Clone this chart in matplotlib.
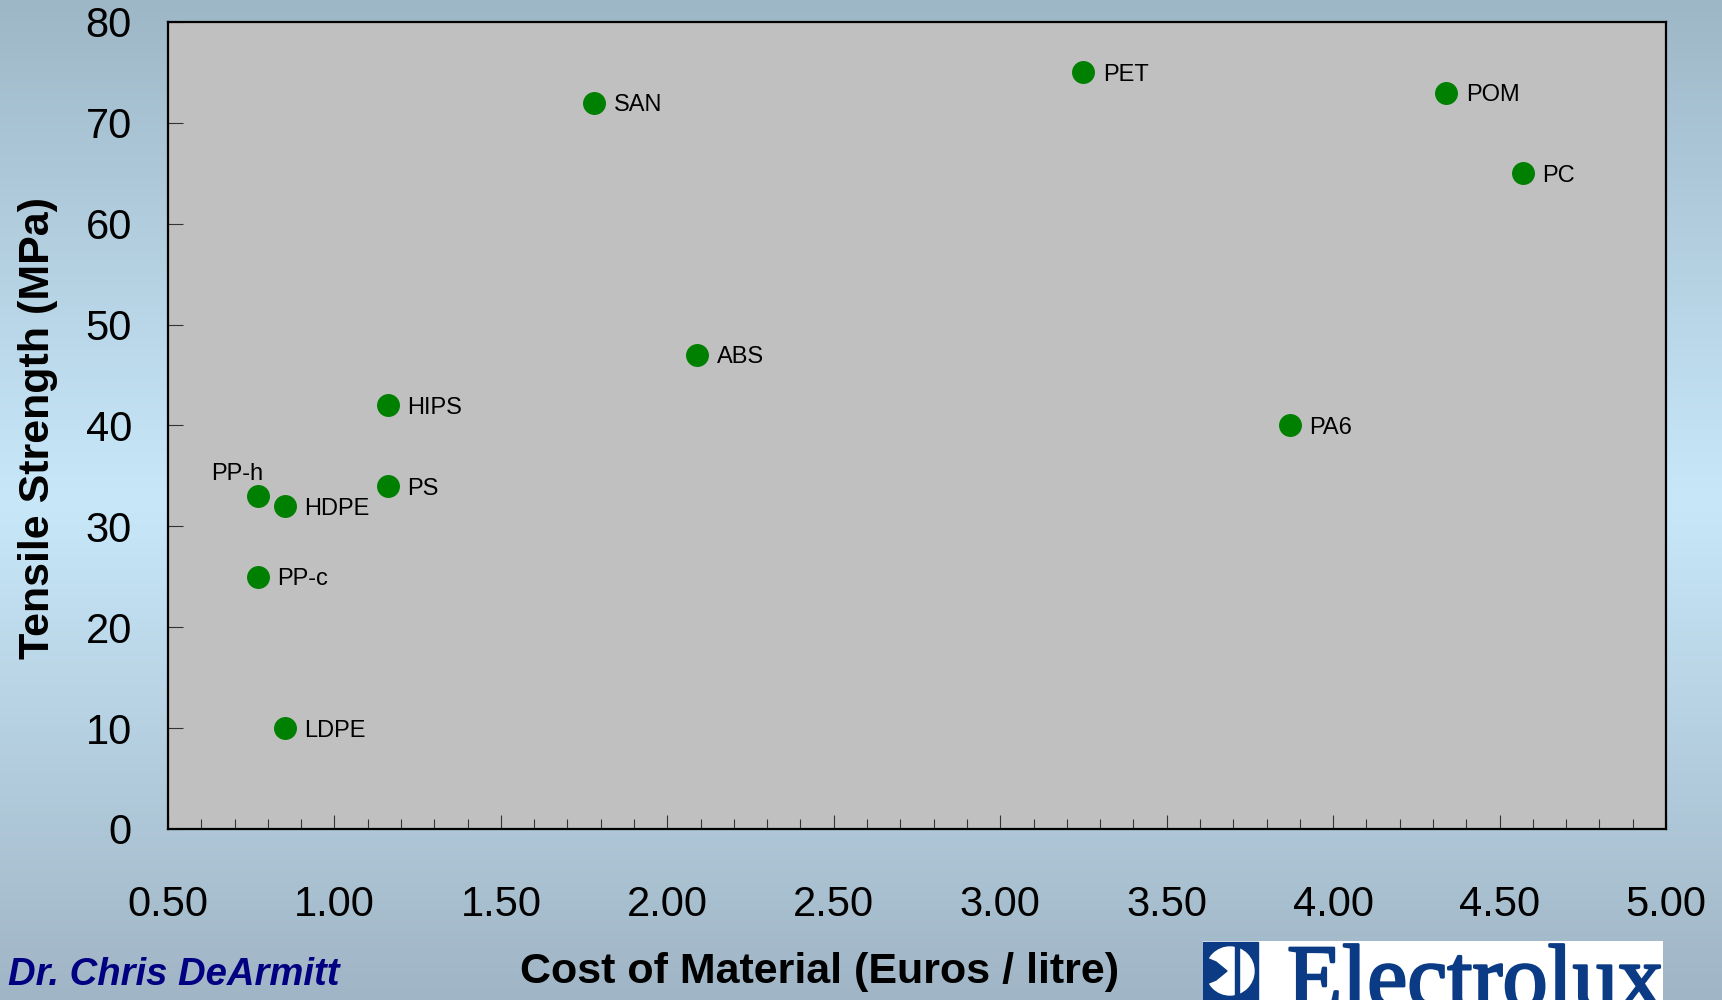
import numpy as np
import matplotlib
matplotlib.use("Agg")
import matplotlib.pyplot as plt
from matplotlib.patches import Rectangle, Circle, Polygon
from matplotlib.ticker import MultipleLocator, FormatStrFormatter
import matplotlib.patheffects as pe

plt.rcParams['font.family'] = ['Liberation Sans', 'DejaVu Sans']

# Polymer cost vs. tensile strength
materials = ["SAN", "PET", "POM", "PC", "ABS", "HIPS", "PS", "PA6",
             "PP-h", "HDPE", "PP-c", "LDPE"]
cost_eur_per_litre = [1.78, 3.25, 4.34, 4.57, 2.09, 1.16, 1.16, 3.87,
                      0.77, 0.85, 0.77, 0.85]
tensile_mpa = [72, 75, 73, 65, 47, 42, 34, 40, 33, 32, 25, 10]

x_tick_values = [0.5, 1.0, 1.5, 2.0, 2.5, 3.0, 3.5, 4.0, 4.5, 5.0]
y_tick_values = [0, 10, 20, 30, 40, 50, 60, 70, 80]

W, H = 1722, 1000
fig = plt.figure(figsize=(W / 100, H / 100), dpi=100)

# Vertical blue-grey gradient background
bg = fig.add_axes([0, 0, 1, 1], zorder=-10)
stops_y = np.array([0.0, 0.5, 1.0])
stops_rgb = np.array([[158, 183, 199], [200, 232, 250], [160, 181, 197]]) / 255.0
yy = np.linspace(0, 1, 500)
grad = np.stack([np.interp(yy, stops_y, stops_rgb[:, c]) for c in range(3)], axis=-1)
bg.imshow(grad[:, None, :], aspect='auto', extent=[0, 1, 1, 0])
bg.set_xlim(0, 1)
bg.set_ylim(1, 0)
bg.axis('off')

# Main scatter axes
ax = fig.add_axes([168 / W, 1 - 829 / H, (1666 - 168) / W, (829 - 22) / H])
ax.set_facecolor('#c0c0c0')
ax.scatter(cost_eur_per_litre, tensile_mpa, s=15.5 ** 2, color='#008000',
           zorder=3, clip_on=False)

for name, x, y in zip(materials, cost_eur_per_litre, tensile_mpa):
    if name == "PP-h":
        ax.annotate(name, (x, y), xytext=(-15, 18), textcoords='offset points',
                    ha='center', va='center_baseline', fontsize=17)
    else:
        ax.annotate(name, (x, y), xytext=(14, 0), textcoords='offset points',
                    ha='left', va='center_baseline', fontsize=17)

ax.set_xlim(0.5, 5.0)
ax.set_ylim(0, 80)
ax.set_xticks(x_tick_values)
ax.set_yticks(y_tick_values)
ax.xaxis.set_minor_locator(MultipleLocator(0.1))
ax.xaxis.set_major_formatter(FormatStrFormatter('%.2f'))
ax.tick_params(axis='x', which='major', direction='in', length=10, width=0.8,
               color='#333333', labelsize=30, pad=40)
ax.tick_params(axis='x', which='minor', direction='in', length=7, width=0.8,
               color='#333333')
ax.tick_params(axis='y', which='major', direction='in', length=11, width=0.8,
               color='#333333', labelsize=30, pad=26)
for sp in ax.spines.values():
    sp.set_linewidth(1.6)
    sp.set_color('black')

fig.text(38 / W, 1 - 428 / H, "Tensile Strength (MPa)", rotation=90,
         ha='center', va='center', fontsize=31, fontweight='bold')
fig.text(820 / W, 1 - 972 / H, "Cost of Material (Euros / litre)",
         ha='center', va='center', fontsize=31, fontweight='bold')
fig.text(8 / W, 1 - 975 / H, "Dr. Chris DeArmitt", ha='left', va='center',
         fontsize=27.5, fontweight='bold', fontstyle='italic', color='#000080')

# Electrolux logo block
navy = '#0b3b84'
lx0, lx1, ly0 = 1203, 1663, 941
logo = fig.add_axes([lx0 / W, 0, (lx1 - lx0) / W, (H - ly0) / H])
logo.set_xlim(lx0, lx1)
logo.set_ylim(H, ly0)
logo.set_facecolor('white')
logo.set_xticks([])
logo.set_yticks([])
for sp in logo.spines.values():
    sp.set_visible(False)
logo.add_patch(Rectangle((1203, 942), 55, 62, color=navy))
logo.add_patch(Circle((1230, 971), 24, color='white'))
logo.add_patch(Polygon([(1204, 957), (1216, 962), (1227, 971), (1216, 980),
                        (1204, 985)], closed=True, color=navy))
logo.add_patch(Rectangle((1235, 944), 4, 56, color=navy))
logo.text(1287, 1007, "Electrolux", ha='left', va='baseline',
          fontsize=65, color=navy, family='Liberation Serif', clip_on=False,
          path_effects=[pe.withStroke(linewidth=1.8, foreground=navy)])

fig.savefig("out.png", dpi=100)
